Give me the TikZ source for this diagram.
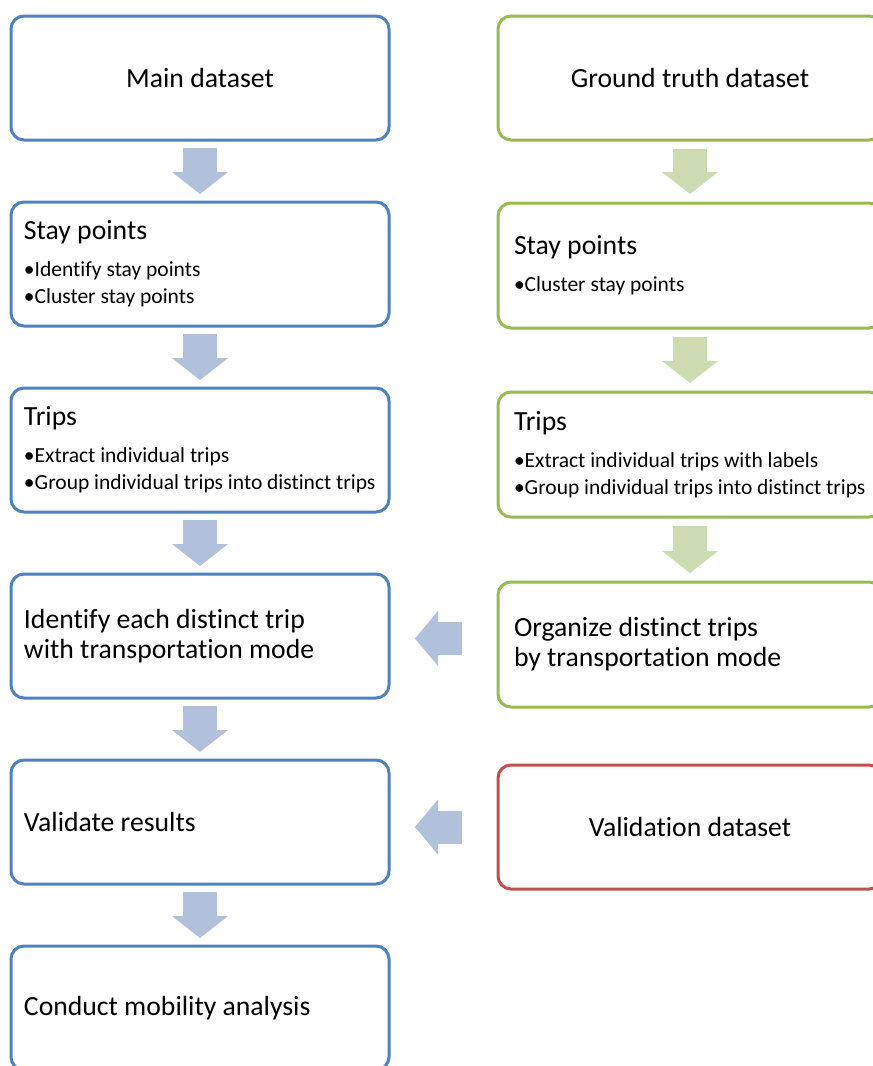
\documentclass[tikz,border=0pt]{standalone}
\usepackage{fontspec}
\setmainfont{Carlito}[Ligatures={TeX,NoCommon}]
\usetikzlibrary{arrows.meta,positioning}

\definecolor{mainblue}{HTML}{4F81BD}
\definecolor{truthgreen}{HTML}{98B954}
\definecolor{validred}{HTML}{C0504D}
\definecolor{bluefill}{HTML}{B1C1DC}
\definecolor{greenfill}{HTML}{CDDBB2}

\newcommand{\fixspace}{\spaceskip=\fontdimen2\font\xspaceskip=\fontdimen2\font}
\newcommand{\bigtext}{\fontsize{13.85}{15}\selectfont}
\newcommand{\listtext}{\fontsize{13.85}{13.5}\selectfont}
\newcommand{\smalltext}{\fontsize{10.75}{13.5}\selectfont\fixspace}

\begin{document}
\begin{tikzpicture}[box/.style={rectangle,rounded corners=6.5pt,line width=1.5pt,fill=white,
                      minimum width=189pt,minimum height=62pt,text width=176pt,
                      inner xsep=6.5pt,outer sep=0pt,font=\bigtext,
                      execute at begin node={\fixspace}},
                    listbox/.style={font=\listtext},
                    mainbox/.style={box,draw=mainblue},
                    truthbox/.style={box,draw=truthgreen,minimum width=192pt},
                    validbox/.style={box,draw=validred,minimum width=192pt},
                    bluedown/.style={-{Triangle[width=28pt,length=11pt,line width=0pt]},
                      line width=17pt,draw=bluefill,shorten <=4pt,shorten >=4pt},
                    greendown/.style={bluedown,draw=greenfill,shorten <=4.5pt,shorten >=4.5pt},
                    blueleft/.style={-{Triangle[width=27.5pt,length=11.5pt,line width=0pt]},
                      line width=16.5pt,draw=bluefill,shorten <=18pt,shorten >=13pt}]

  \path[use as bounding box,fill=white] (0,0) rectangle (436.5pt,-533pt);

  % main column
  \node[mainbox,align=center,anchor=north west] (m1) at (5.5pt,-8pt) {Main dataset};
  \node[mainbox,listbox,align=left] (m2) [below=31pt of m1]
    {Stay points\\[5pt]\smalltext •Identify stay points\\•Cluster stay points};
  \node[mainbox,listbox,align=left] (m3) [below=31pt of m2]
    {Trips\\[5pt]\smalltext •Extract individual trips\\•Group individual trips into distinct trips};
  \node[mainbox,align=left] (m4) [below=31pt of m3]
    {Identify each distinct trip\\with transportation mode};
  \node[mainbox,align=left] (m5) [below=31pt of m4] {Validate results};
  \node[mainbox,align=left] (m6) [below=31pt of m5] {Conduct mobility analysis};

  % ground truth column
  \node[truthbox,align=center] (g1) [right=54.5pt of m1.east,anchor=west] {Ground truth dataset};
  \node[truthbox,listbox,align=left,minimum height=62.5pt] (g2) [below=31.5pt of g1]
    {Stay points\\[5pt]\smalltext •Cluster stay points};
  \node[truthbox,listbox,align=left,minimum height=62.5pt] (g3) [below=32pt of g2]
    {Trips\\[5pt]\smalltext •Extract individual trips with labels\\•Group individual trips into distinct trips};
  \node[truthbox,align=left,minimum height=62.5pt] (g4) [below=32.5pt of g3]
    {Organize distinct trips\\by transportation mode};
  \node[validbox,align=center] (v) [below=29pt of g4] {Validation dataset};

  \coordinate (t4) at ([yshift=3pt]g4.west);

  \path (m1) edge[bluedown] (m2)
        (m2) edge[bluedown] (m3)
        (m3) edge[bluedown] (m4)
        (m4) edge[bluedown] (m5)
        (m5) edge[bluedown] (m6)
        (g1) edge[greendown] (g2)
        (g2) edge[greendown] (g3)
        (g3) edge[greendown] (g4)
        (t4) edge[blueleft] (t4 -| m4.east)
        (v.west) edge[blueleft] (v.west -| m5.east);
\end{tikzpicture}
\end{document}
